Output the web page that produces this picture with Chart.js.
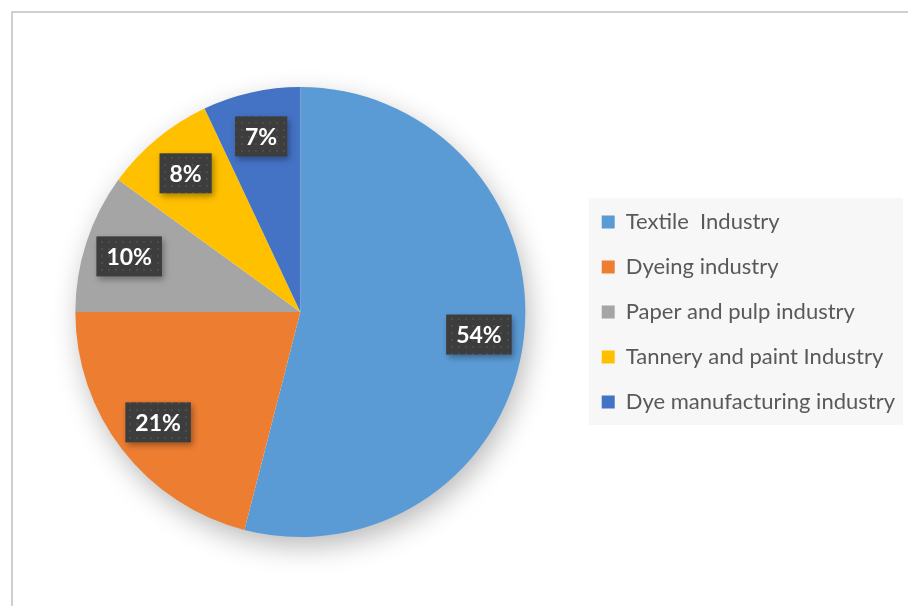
<!DOCTYPE html>
<html>
<head>
<meta charset="utf-8">
<script src="https://cdn.jsdelivr.net/npm/chart.js@4"></script>
<style>
  body { margin: 0; background: #fff; }
  #frame { position: absolute; left: 11px; top: 11px; width: 920px; height: 620px; border-left: 2px solid #d0d0d0; border-top: 2px solid #d0d0d0; }
  #wrap { position: absolute; left: 0; top: 0; width: 908px; height: 606px; }
</style>
</head>
<body>
<div id="frame"></div>
<div id="wrap"><canvas id="pie"></canvas></div>
<script>
var categories = ["Textile  Industry", "Dyeing industry", "Paper and pulp industry", "Tannery and paint Industry", "Dye manufacturing industry"];
var shares = [54, 21, 10, 8, 7];
var sliceColors = ["#5B9BD5", "#ED7D31", "#A5A5A5", "#FFC000", "#4472C4"];

// dotted dark pattern for the data labels
function makePattern(ctx) {
    var c = document.createElement("canvas");
    c.width = 7; c.height = 7;
    var p = c.getContext("2d");
    p.fillStyle = "#3d3d3d";
    p.fillRect(0, 0, 7, 7);
    p.fillStyle = "#4c4c4c";
    p.fillRect(3, 3, 2, 2);
    return ctx.createPattern(c, "repeat");
}

var pieShadow = {
    id: "pieShadow",
    beforeDatasetsDraw: function(chart) {
        var arc = chart.getDatasetMeta(0).data[0];
        if (!arc) return;
        var ctx = chart.ctx;
        ctx.save();
        ctx.shadowColor = "rgba(0,0,0,0.28)";
        ctx.shadowBlur = 28;
        ctx.shadowOffsetX = 4;
        ctx.shadowOffsetY = 10;
        ctx.fillStyle = "#fff";
        ctx.beginPath();
        ctx.arc(arc.x, arc.y, arc.outerRadius - 1, 0, Math.PI * 2);
        ctx.fill();
        ctx.restore();
    }
};

var legendBack = {
    id: "legendBack",
    beforeDraw: function(chart) {
        var boxes = chart.legend.legendHitBoxes;
        if (!boxes || !boxes.length) return;
        var l = Infinity, r = -Infinity;
        boxes.forEach(function(b) {
            l = Math.min(l, b.left);
            r = Math.max(r, b.left + b.width);
        });
        var t = boxes[0].top - 13;
        var btm = boxes[boxes.length - 1].top + boxes[boxes.length - 1].height + 12;
        var ctx = chart.ctx;
        ctx.save();
        ctx.fillStyle = "#f7f7f7";
        ctx.fillRect(l - 13, t, (r - l) + 21, btm - t);
        ctx.restore();
    }
};

var sliceLabels = {
    id: "sliceLabels",
    afterDatasetsDraw: function(chart) {
        var ctx = chart.ctx;
        var pattern = makePattern(ctx);
        var meta = chart.getDatasetMeta(0);
        ctx.save();
        ctx.font = "bold 23px Lato, 'Liberation Sans', sans-serif";
        ctx.textAlign = "center";
        ctx.textBaseline = "middle";
        meta.data.forEach(function(arc, i) {
            var mid = (arc.startAngle + arc.endAngle) / 2;
            var r = arc.outerRadius * 0.8;
            var x = arc.x + Math.cos(mid) * r;
            var y = arc.y + Math.sin(mid) * r;
            var txt = shares[i] + "%";
            var w = ctx.measureText(txt).width + 20;
            var h = 40;
            ctx.save();
            ctx.shadowColor = "rgba(0,0,0,0.35)";
            ctx.shadowBlur = 6;
            ctx.shadowOffsetX = 2;
            ctx.shadowOffsetY = 3;
            ctx.fillStyle = pattern;
            ctx.fillRect(x - w / 2, y - h / 2, w, h);
            ctx.restore();
            ctx.fillStyle = "#fff";
            ctx.fillText(txt, x, y + 1);
        });
        ctx.restore();
    }
};

var config = {
    type: "pie",
    data: {
        labels: categories,
        datasets: [{
            data: shares,
            backgroundColor: sliceColors,
            borderWidth: 0
        }]
    },
    options: {
        responsive: true,
        maintainAspectRatio: false,
        animation: false,
        layout: {
            padding: { left: 22, right: 3, top: 87, bottom: 69 }
        },
        plugins: {
            tooltip: { enabled: false },
            legend: {
                position: "right",
                labels: {
                    boxWidth: 13,
                    boxHeight: 13,
                    padding: 23,
                    color: "#595959",
                    font: { size: 22, family: "Lato, 'Liberation Sans', sans-serif" }
                }
            }
        }
    },
    plugins: [pieShadow, legendBack, sliceLabels]
};

var ctx = document.getElementById("pie");
window.myChart = new Chart(ctx, config);
</script>
</body>
</html>
